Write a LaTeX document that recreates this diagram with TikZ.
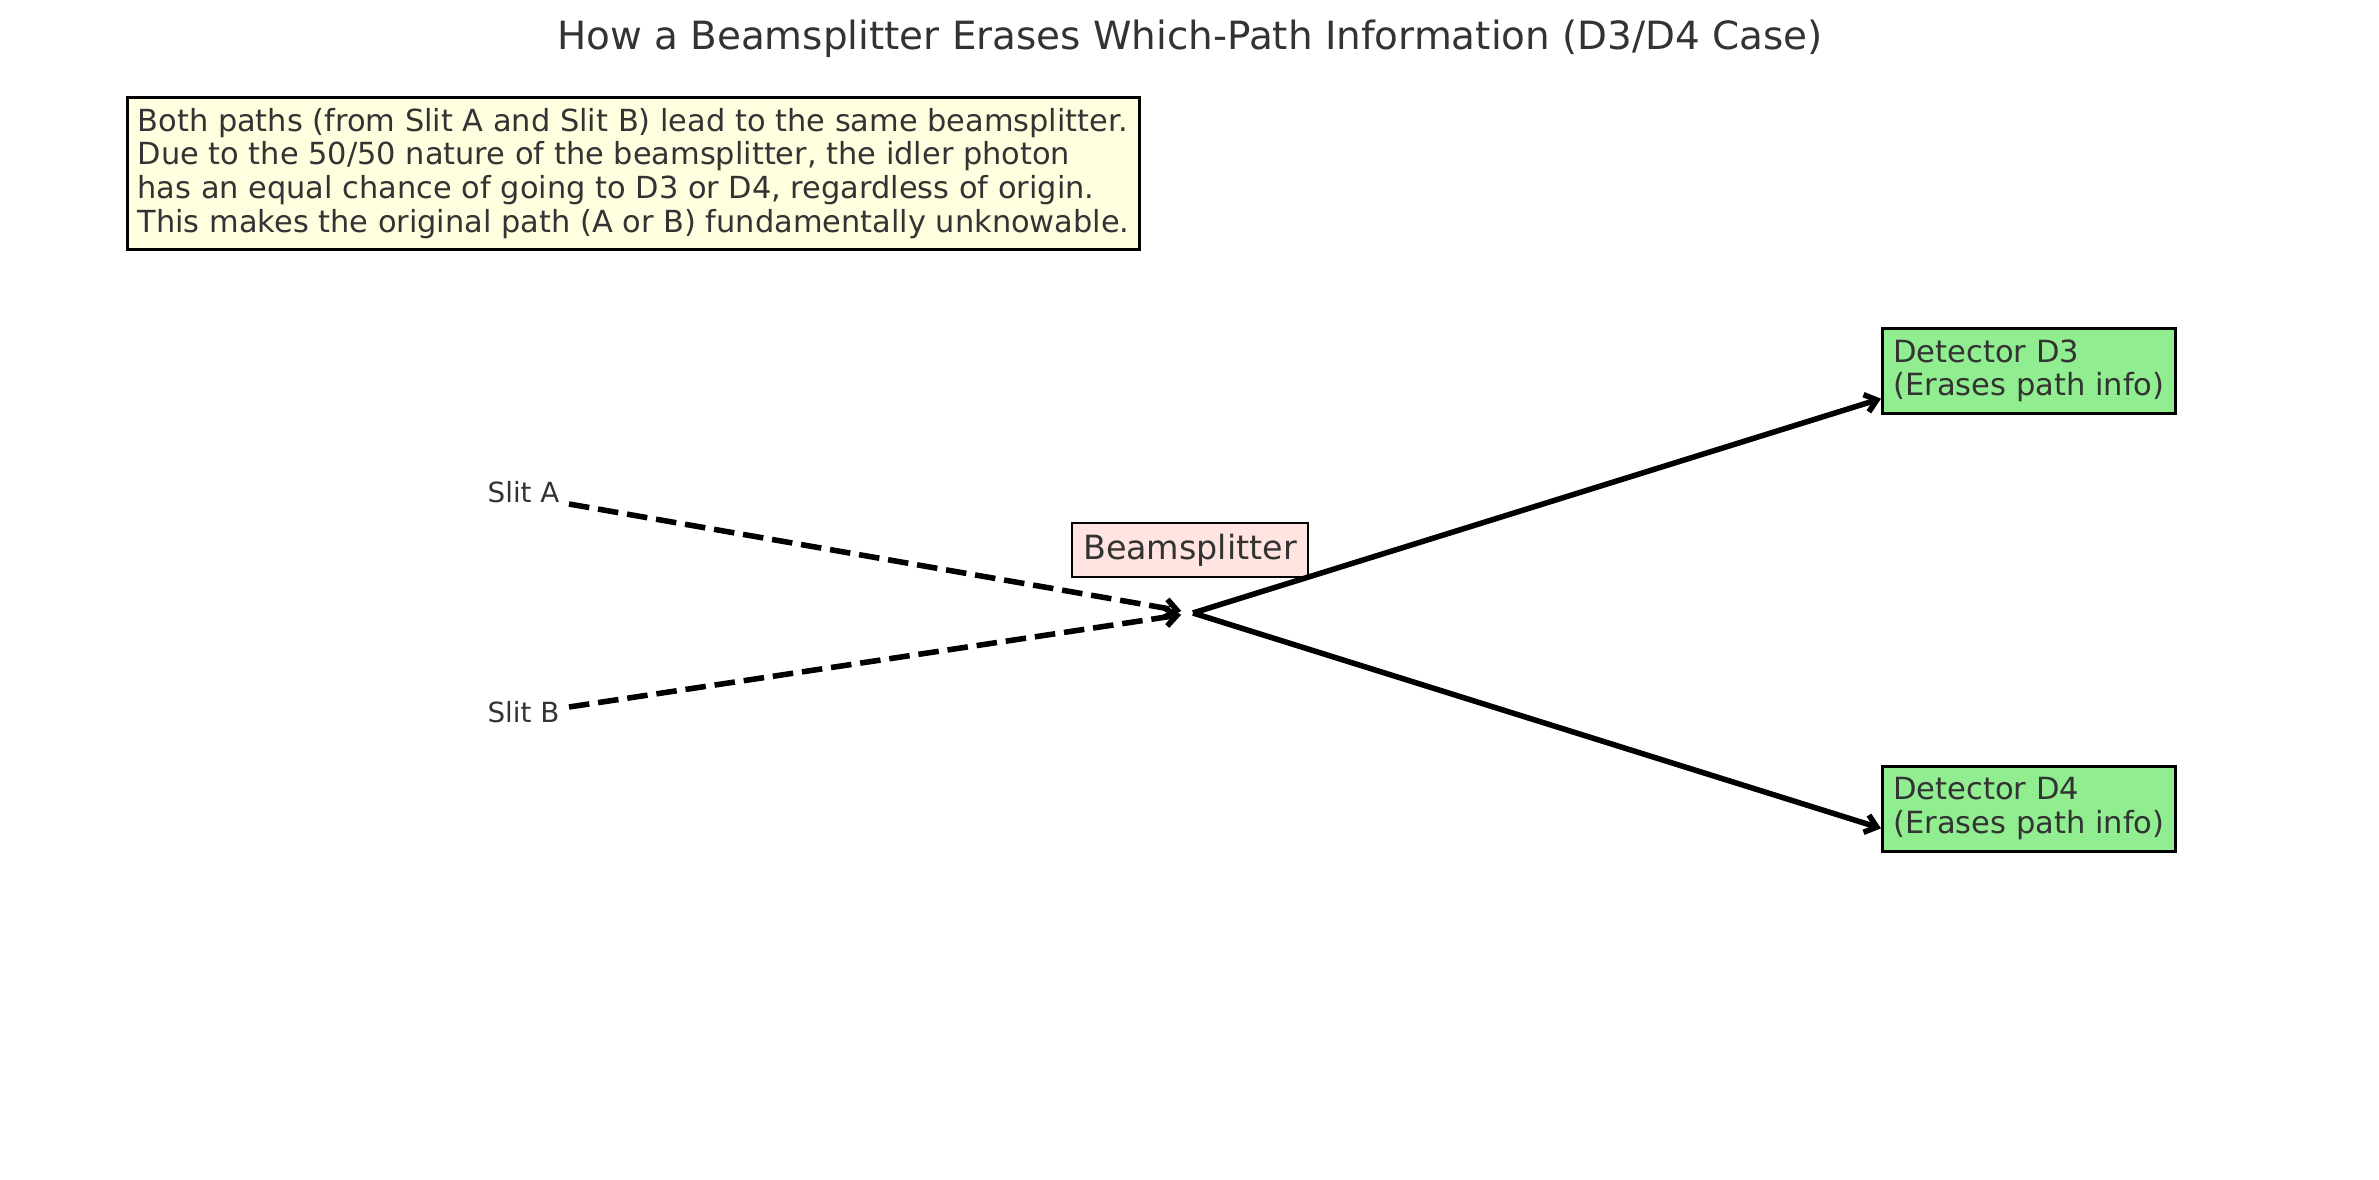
\documentclass[tikz,border=0pt]{standalone}
\usepackage{fontspec}
\setmainfont{DejaVu Sans}
\usepackage{tikz}
\usepackage{xcolor}
\usetikzlibrary{positioning,shapes,arrows.meta}
\definecolor{textgray}{HTML}{333333}
\definecolor{notefill}{HTML}{FFFFE0}
\definecolor{bsfill}{HTML}{FFE4E1}
\definecolor{detfill}{HTML}{90EE90}

\begin{document}
\begin{tikzpicture}[x=0.36pt,y=-0.36pt]
\useasboundingbox (0,0) rectangle (2379,1180);
\tikzstyle{every node}=[text=textgray];
\tikzstyle{notebox}=[draw=black,line width=1pt,fill=notefill,anchor=north west,align=left,
  inner xsep=3.7pt,minimum height=54.7pt,font=\fontsize{10.95}{12.1}\selectfont];
\tikzstyle{detbox}=[draw=black,line width=1pt,fill=detfill,anchor=north west,align=left,
  inner xsep=3.9pt,minimum height=30.6pt,font=\fontsize{11}{12.2}\selectfont];
\tikzstyle{slitlabel}=[inner sep=0pt,anchor=base east,font=\fontsize{10}{12}\selectfont];
\tikzstyle{beam}=[line width=2pt,-{Straight Barb[length=4pt,width=6.5pt]}];

\node[anchor=base,font=\fontsize{14}{17}\selectfont] (title) at (1190,50)
  {How a Beamsplitter Erases Which-Path Information (D3/D4 Case)};
\node[notebox] (note) at (126,96) {Both paths (from Slit A and Slit B) lead to the same beamsplitter.\\
Due to the 50/50 nature of the beamsplitter, the idler photon\\
has an equal chance of going to D3 or D4, regardless of origin.\\
This makes the original path (A or B) fundamentally unknowable.};

\node[slitlabel] (slitA) at (560,503) {Slit A};
\node[slitlabel] (slitB) at (560,723) {Slit B};
\coordinate (srcA) at (569,504);
\coordinate (srcB) at (569,707);
\coordinate (bs) at (1193,613);

\node[draw=black,line width=1pt,fill=bsfill,minimum width=85pt,minimum height=19.5pt,
  font=\fontsize{12}{14}\selectfont] (split) at (1190,550) {Beamsplitter};
\node[detbox] (d3) at (1881,327) {Detector D3\\(Erases path info)};
\node[detbox] (d4) at (1881,765) {Detector D4\\(Erases path info)};

\draw[beam,dashed,dash pattern=on 7.4pt off 3.2pt,shorten >=4.3pt] (srcA) -- (bs);
\draw[beam,dashed,dash pattern=on 7.4pt off 3.2pt,shorten >=4.3pt] (srcB) -- (bs);
\draw[beam] (bs) -- ([yshift=-10pt]d3.west);
\draw[beam] (bs) -- ([yshift=-7pt]d4.west);
\end{tikzpicture}
\end{document}
